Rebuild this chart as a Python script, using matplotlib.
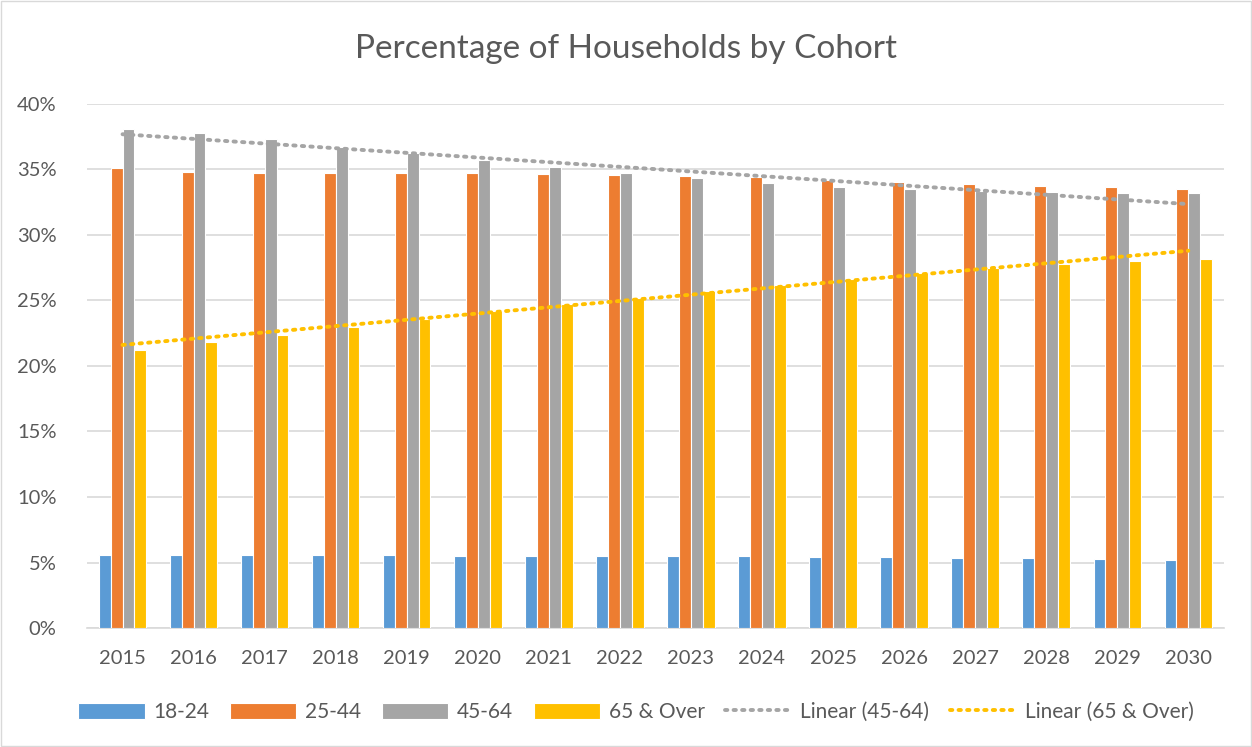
import numpy as np
import matplotlib.pyplot as plt
from matplotlib.patches import Rectangle
from matplotlib.lines import Line2D
from matplotlib.ticker import FuncFormatter

years = [str(y) for y in range(2015, 2031)]

# percentages
age_18_24 = [5.6, 5.6, 5.58, 5.57, 5.55, 5.53, 5.52, 5.5, 5.5, 5.48, 5.45, 5.42, 5.38, 5.32, 5.25, 5.18]
age_25_44 = [35.1, 34.83, 34.72, 34.72, 34.72, 34.7, 34.65, 34.6, 34.5, 34.4, 34.2, 34.05, 33.9, 33.75, 33.65, 33.5]
age_45_64 = [38.1, 37.8, 37.3, 36.75, 36.25, 35.7, 35.2, 34.75, 34.35, 34.0, 33.7, 33.5, 33.35, 33.25, 33.2, 33.2]
age_65_up = [21.25, 21.8, 22.4, 23.0, 23.6, 24.2, 24.7, 25.2, 25.7, 26.2, 26.65, 27.1, 27.5, 27.75, 28.0, 28.2]

series = [("18-24", age_18_24, "#5B9BD5"),
          ("25-44", age_25_44, "#ED7D31"),
          ("45-64", age_45_64, "#A5A5A5"),
          ("65 & Over", age_65_up, "#FFC000")]

plt.rcParams['font.family'] = ['Lato', 'DejaVu Sans']
txt = "#595959"

fig = plt.figure(figsize=(12.52, 7.47), dpi=100)
ax = fig.add_axes([0.0695, 0.1593, 0.908, 0.7015])

x = np.arange(len(years))
w = 0.167
for i, (name, vals, col) in enumerate(series):
    ax.bar(x + (i - 1.5) * w, np.array(vals) / 100, width=w, color=col,
           edgecolor="white", linewidth=0.8, label=name, zorder=3)

# linear trendlines like Excel
for vals, col in [(age_45_64, "#A5A5A5"), (age_65_up, "#FFC000")]:
    k, b = np.polyfit(x, vals, 1)
    ax.plot(x, (k * x + b) / 100, color=col, linestyle=(0, (0.6, 1.6)),
            dash_capstyle="round", linewidth=2.8, zorder=4)

ax.set_xlim(-0.5, len(years) - 0.5)
ax.set_ylim(0, 0.4)
ax.set_yticks(np.arange(0, 0.41, 0.05))
ax.yaxis.set_major_formatter(FuncFormatter(lambda v, p: f"{v*100:.0f}%"))
ax.set_xticks(x)
ax.set_xticklabels(years)
ax.grid(axis="y", color="#D9D9D9", linewidth=1.2, zorder=0)
ax.set_axisbelow(True)
for s in ["top", "right", "left"]:
    ax.spines[s].set_visible(False)
ax.spines["bottom"].set_color("#D9D9D9")
ax.spines["bottom"].set_linewidth(1.2)
ax.tick_params(length=0, labelsize=14.5, colors=txt)
ax.tick_params(axis="x", pad=16)
ax.tick_params(axis="y", pad=22)

fig.text(0.5, 0.935, "Percentage of Households by Cohort", ha="center", va="center",
         fontsize=24, color=txt)

handles, labels = ax.get_legend_handles_labels()
handles += [Line2D([], [], color="#A5A5A5", linestyle=(0, (0.6, 1.6)), linewidth=2.8, dash_capstyle="round"),
            Line2D([], [], color="#FFC000", linestyle=(0, (0.6, 1.6)), linewidth=2.8, dash_capstyle="round")]
labels += ["Linear (45-64)", "Linear (65 & Over)"]
fig.legend(handles, labels, loc="center", bbox_to_anchor=(0.508, 0.047), ncol=6,
           frameon=False, fontsize=15, labelcolor=txt, handlelength=3.2,
           handleheight=0.8, handletextpad=0.4, columnspacing=1.0)

fig.patches.append(Rectangle((0.001, 0.001), 0.998, 0.998, transform=fig.transFigure,
                             fill=False, edgecolor="#D9D9D9", linewidth=1))

fig.savefig("out.png", dpi=100)
